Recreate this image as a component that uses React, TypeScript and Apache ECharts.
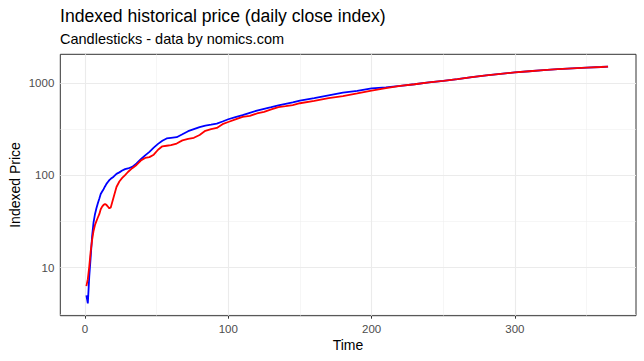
import React, { useEffect, useRef } from "react";
import * as echarts from "echarts";

const days = [1, 2, 3, 4, 5, 6, 7, 8, 9, 10, 11, 12, 13, 14, 15, 16, 17, 18, 20, 22, 24, 26, 28, 30, 33, 36, 39, 42, 45, 48, 51, 54, 57, 60, 64, 68, 72, 76, 80, 84, 88, 92, 96, 100, 105, 110, 115, 120, 125, 130, 135, 140, 145, 150, 160, 170, 180, 190, 200, 210, 220, 230, 240, 250, 260, 270, 280, 290, 300, 310, 320, 330, 340, 350, 360, 365];

const blueValues = [5.0, 4.1, 8, 13, 22, 31, 38, 44, 50, 56, 63, 67, 71, 76, 81, 85, 89, 92, 97, 104, 108, 113, 117, 119, 124, 135, 150, 165, 180, 200, 220, 238, 252, 256, 260, 280, 302, 318, 335, 348, 355, 365, 385, 407, 430, 452, 478, 505, 528, 550, 575, 598, 620, 648, 690, 740, 790, 825, 880, 900, 935, 975, 1020, 1060, 1110, 1165, 1220, 1265, 1310, 1350, 1385, 1420, 1450, 1475, 1500, 1515];

const redValues = [6.3, 7.5, 10.3, 15, 20, 25, 29, 32, 35, 38, 43, 46, 48, 49, 48, 46, 44, 45, 58, 75, 86, 94, 101, 109, 120, 130, 145, 155, 158, 168, 190, 207, 210, 213, 222, 240, 250, 256, 275, 305, 318, 328, 360, 380, 405, 432, 442, 470, 490, 520, 552, 565, 580, 607, 645, 690, 725, 775, 830, 885, 935, 975, 1020, 1060, 1110, 1165, 1220, 1265, 1310, 1350, 1385, 1420, 1450, 1475, 1500, 1515];

const xTicks = [0, 100, 200, 300];
const xMinorTicks = [50, 150, 250, 350];
const yTickPrices = [10, 100, 1000];
const yMinorPrices = [Math.pow(10, 0.5), Math.pow(10, 1.5), Math.pow(10, 2.5)];

const FONT = "'Liberation Sans', Arial, sans-serif";

export default function App() {
  const ref = useRef<HTMLDivElement>(null);
  useEffect(() => {
    if (!ref.current) return;
    const chart = echarts.init(ref.current, undefined, { renderer: "svg" });
    const toLog = (v: number) => Math.log10(v);
    const blueData = days.map((d, i) => [d, toLog(blueValues[i])]);
    const redData = days.map((d, i) => [d, toLog(redValues[i])]);
    const yTicks = yTickPrices.map(toLog);
    const yMinor = yMinorPrices.map(toLog);
    const major = { color: "#EBEBEB", width: 1.1, type: "solid" as const };
    const minor = { color: "#F0F0F0", width: 0.6, type: "solid" as const };
    const gridMarks: any[] = [
      ...xMinorTicks.map((v) => ({ xAxis: v, lineStyle: minor })),
      ...yMinor.map((v) => ({ yAxis: v, lineStyle: minor })),
      ...xTicks.map((v) => ({ xAxis: v, lineStyle: major })),
      ...yTicks.map((v) => ({ yAxis: v, lineStyle: major })),
    ];
    chart.setOption({
      animation: false,
      backgroundColor: "#FFFFFF",
      title: [
        {
          text: "Indexed historical price (daily close index)",
          left: 60,
          top: 5.5,
          padding: 0,
          textStyle: { fontFamily: FONT, fontSize: 17.6, fontWeight: "normal", color: "#000000", lineHeight: 20 },
        },
        {
          text: "Candlesticks - data by nomics.com",
          left: 60,
          top: 30.5,
          padding: 0,
          textStyle: { fontFamily: FONT, fontSize: 14.5, fontWeight: "normal", color: "#000000", lineHeight: 17 },
        },
      ],
      grid: {
        left: 60.3,
        right: 8,
        top: 54.3,
        bottom: 45.3,
        show: true,
        borderColor: "#333333",
        borderWidth: 1,
        backgroundColor: "transparent",
        containLabel: false,
      },
      xAxis: {
        type: "value",
        min: -17.2,
        max: 384.5,
        axisLine: { show: false },
        splitLine: { show: false },
        axisTick: { show: true, customValues: xTicks, length: 3, inside: false, lineStyle: { color: "#333333", width: 1 } },
        axisLabel: {
          customValues: xTicks,
          color: "#4D4D4D",
          fontFamily: FONT,
          fontSize: 11.5,
          margin: 7,
        },
      },
      yAxis: {
        type: "value",
        min: 0.479,
        max: 3.314,
        axisLine: { show: false },
        splitLine: { show: false },
        axisTick: { show: true, customValues: yTicks, length: 3, inside: false, lineStyle: { color: "#333333", width: 1 } },
        axisLabel: {
          customValues: yTicks,
          color: "#4D4D4D",
          fontFamily: FONT,
          fontSize: 11.5,
          margin: 6,
          formatter: (v: number) => String(Math.round(Math.pow(10, v))),
        },
      },
      graphic: [
        {
          type: "text",
          x: 15,
          y: 185,
          rotation: Math.PI / 2,
          style: { text: "Indexed Price", align: "center", verticalAlign: "middle", fontFamily: FONT, fontSize: 14, fill: "#000000" },
        },
        {
          type: "text",
          x: 348,
          y: 345,
          style: { text: "Time", align: "center", verticalAlign: "middle", fontFamily: FONT, fontSize: 14, fill: "#000000" },
        },
      ],
      series: [
        {
          type: "line",
          z: 1,
          data: [[0, 1]],
          symbol: "none",
          lineStyle: { opacity: 0 },
          silent: true,
          markLine: {
            silent: true,
            symbol: ["none", "none"],
            label: { show: false },
            data: gridMarks,
          },
        },
        {
          name: "blue",
          type: "line",
          z: 10,
          data: blueData,
          symbol: "none",
          lineStyle: { color: "#0000FF", width: 1.8 },
        },
        {
          name: "red",
          type: "line",
          z: 11,
          data: redData,
          symbol: "none",
          lineStyle: { color: "#FF0000", width: 1.8 },
        },
      ],
    });
    return () => chart.dispose();
  }, []);
  return <div ref={ref} style={{ position: "fixed", left: 0, top: 0, width: 644, height: 361 }} />;
}
